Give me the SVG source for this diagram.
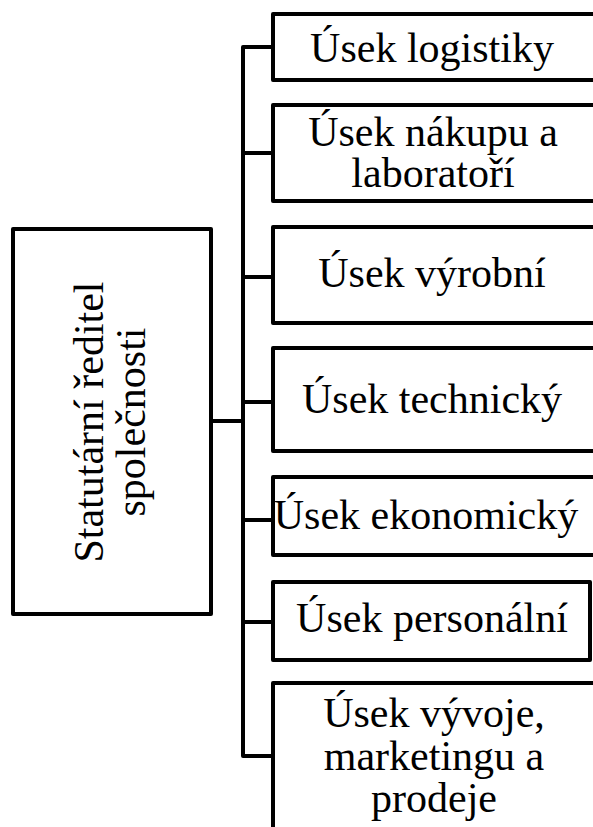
<svg xmlns="http://www.w3.org/2000/svg" width="593" height="827" viewBox="0 0 593 827">
<style>
.box{fill:#fff;stroke:#000;stroke-width:4;stroke-linejoin:round}
.t{font-family:'Liberation Serif','DejaVu Serif',serif;font-size:42px;fill:#000;text-anchor:middle}
.c{fill:none;stroke:#000;stroke-width:4;stroke-linejoin:round}
</style>
<rect width="593" height="827" fill="#fff"/>
<g id="connectors">
<path class="c" d="M211 421 H243"/>
<path class="c" d="M273 47 H243 V756 H273"/>
<path class="c" d="M243 153 H273"/>
<path class="c" d="M243 277 H273"/>
<path class="c" d="M243 402 H273"/>
<path class="c" d="M243 520 H273"/>
<path class="c" d="M243 622 H273"/>
</g>
<g id="root">
<rect class="box" x="13" y="229" width="198" height="385"/>
<text class="t" transform="translate(103 422) rotate(-90)">Statutární ředitel</text>
<text class="t" transform="translate(145 422) rotate(-90)">společnosti</text>
</g>
<g id="n1">
<rect class="box" x="273" y="14" width="325" height="66"/>
<text class="t" x="432" y="62">Úsek logistiky</text>
</g>
<g id="n2">
<rect class="box" x="273" y="105" width="325" height="96"/>
<text class="t" x="433" y="146">Úsek nákupu a</text>
<text class="t" x="433" y="187">laboratoří</text>
</g>
<g id="n3">
<rect class="box" x="273" y="227" width="325" height="96"/>
<text class="t" x="432" y="287">Úsek výrobní</text>
</g>
<g id="n4">
<rect class="box" x="273" y="348" width="325" height="103"/>
<text class="t" x="432" y="413">Úsek technický</text>
</g>
<g id="n5">
<rect class="box" x="273" y="477" width="325" height="78"/>
<text class="t" x="426" y="529">Úsek ekonomický</text>
</g>
<g id="n6">
<rect class="box" x="273" y="582" width="317" height="78"/>
<text class="t" x="432" y="632">Úsek personální</text>
</g>
<g id="n7">
<rect class="box" x="273" y="683" width="325" height="160"/>
<text class="t" x="434" y="727">Úsek vývoje,</text>
<text class="t" x="434" y="770">marketingu a</text>
<text class="t" x="434" y="812">prodeje</text>
</g>
</svg>
